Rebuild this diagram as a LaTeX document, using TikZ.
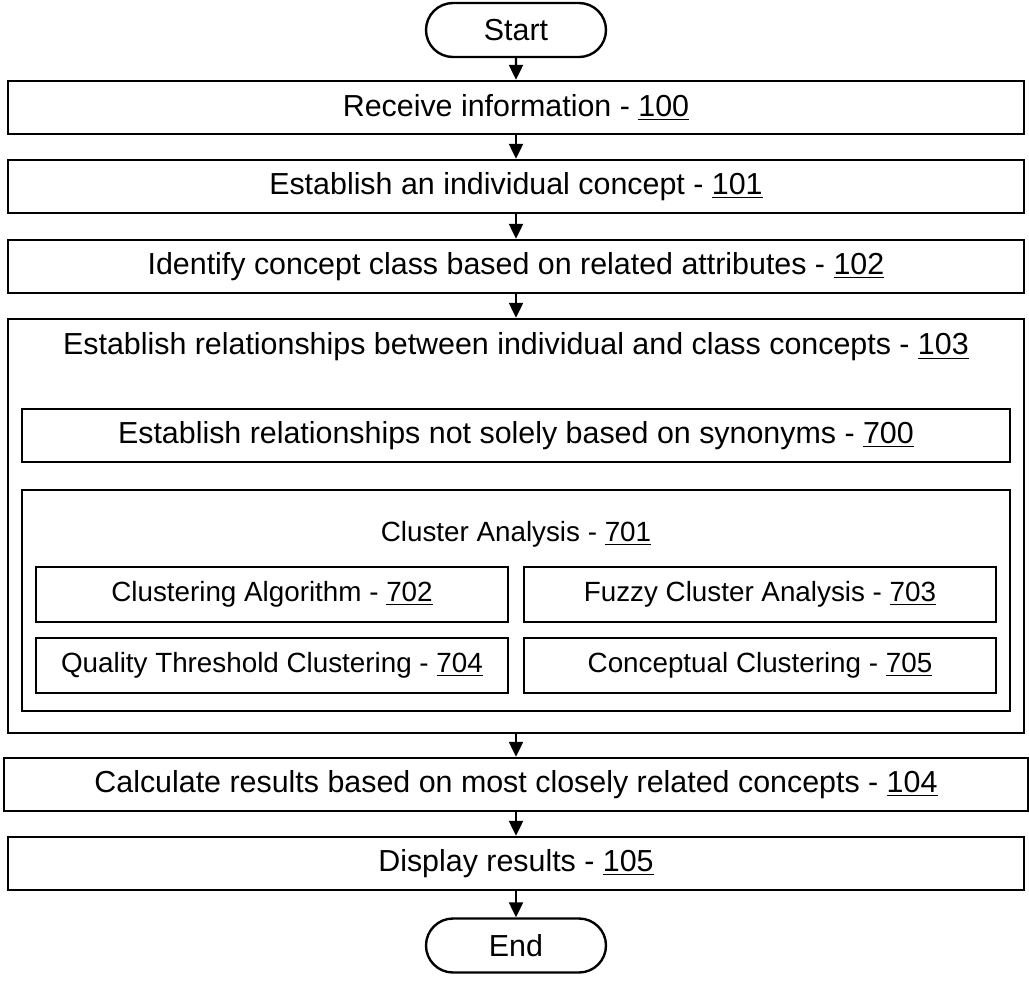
\documentclass[tikz,border=0pt]{standalone}
\usepackage{fontspec}
\setmainfont{Liberation Sans}
\usetikzlibrary{positioning,shapes.misc,arrows.meta}

\tikzset{
    stepbox/.style={draw, line width=1.2pt, rectangle, inner sep=0pt, minimum height=26.5pt},
    subbox/.style={stepbox, minimum width=236pt, minimum height=27.5pt, font=\fontsize{13.9}{16}\selectfont},
    termbox/.style={draw, line width=1.2pt, rounded rectangle, inner sep=0pt, minimum width=90pt, minimum height=27pt},
    flow/.style={line width=1.1pt, -{Triangle[length=7.5pt,width=7pt]}}
}

\begin{document}
\begin{tikzpicture}[x=0.5pt, y=-0.5pt, font=\fontsize{15.2}{18}\selectfont]
        \useasboundingbox (0,0) rectangle (1029,1003);
        % Nodes
        \node (start) at (516,30) [termbox] {Start};
        \node (n100) at (516,107.5) [stepbox, minimum width=508pt] {Receive information - \underline{100}};
        \node (n101) at (516,186.5) [stepbox, minimum width=508pt] {Establish an individual concept - \underline{101}};
        \node (n102) at (516,266.5) [stepbox, minimum width=508pt] {Identify concept class based on related attributes - \underline{102}};
        \node (n103) at (516,526) [stepbox, minimum width=508pt, minimum height=207pt] {};
        \node (t103) at (516,347) {Establish relationships between individual and class concepts - \underline{103}};
        \node (n700) at (516,435.5) [stepbox, minimum width=494pt] {Establish relationships not solely based on synonyms - \underline{700}};
        \node (n701) at (516,600.5) [stepbox, minimum width=494pt, minimum height=110.5pt] {};
        \node (t701) at (516,534) [font=\fontsize{13.9}{16}\selectfont] {Cluster Analysis - \underline{701}};
        \node (n702) at (272,594.5) [subbox] {Clustering Algorithm - \underline{702}};
        \node (n703) at (760,594.5) [subbox] {Fuzzy Cluster Analysis - \underline{703}};
        \node (n704) at (272,665.5) [subbox] {Quality Threshold Clustering - \underline{704}};
        \node (n705) at (760,665.5) [subbox] {Conceptual Clustering - \underline{705}};
        \node (n104) at (516,784.5) [stepbox, minimum width=512pt] {Calculate results based on most closely related concepts - \underline{104}};
        \node (n105) at (516,863.5) [stepbox, minimum width=508pt] {Display results - \underline{105}};
        \node (end) at (516,945.5) [termbox] {End};

        % Edges
        \foreach \a/\b in {start/n100, n100/n101, n101/n102, n102/n103, n103/n104, n104/n105, n105/end} {
            \draw[flow] (\a) -- (\b);
        }

    \end{tikzpicture}
\end{document}
